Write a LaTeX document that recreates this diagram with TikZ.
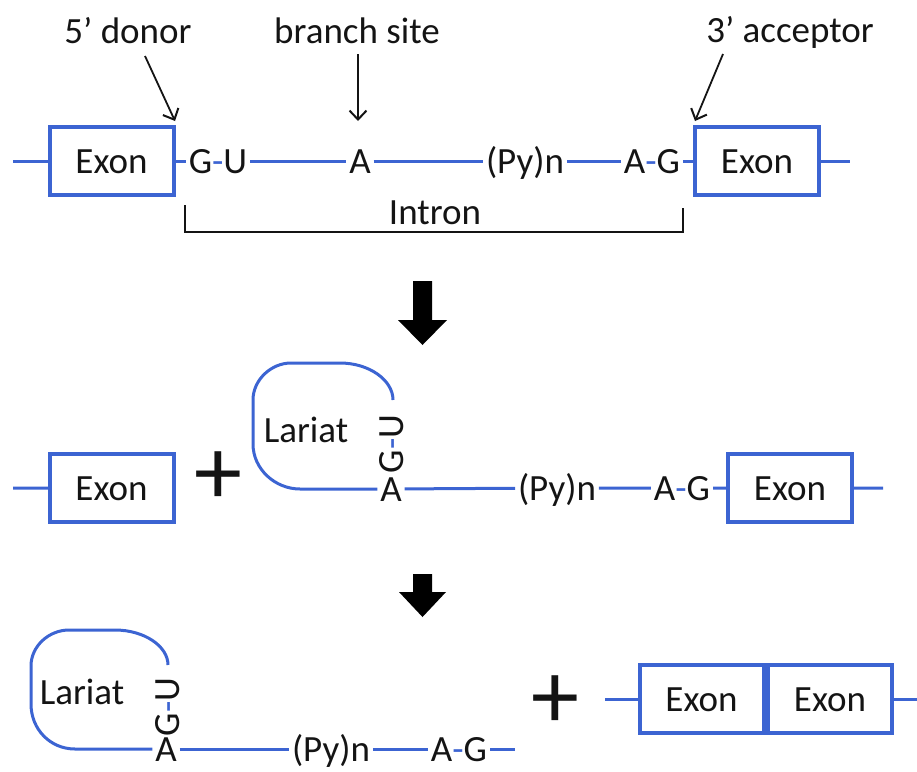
\documentclass[tikz,border=0pt]{standalone}
\usepackage{fontspec}
\setmainfont{Carlito}
\usetikzlibrary{arrows.meta}
\definecolor{rna}{RGB}{60,100,210}
\definecolor{ink}{RGB}{20,20,20}
\begin{document}
\begin{tikzpicture}[x=1pt,y=-1pt,
  every node/.style={font=\fontsize{37}{44}\selectfont, text=ink},
  txt/.style={inner sep=0pt, outer sep=3pt, text height=24pt, text depth=0pt},
  exon/.style={txt, draw=rna, line width=4pt, minimum width=124pt, minimum height=68pt, outer sep=0pt, fill=white},
  strand/.style={draw=rna, line width=3pt},
  ptr/.style={draw=ink, line width=1.8pt, -{Straight Barb[length=9pt,width=17pt,line width=2pt]}},
  plussign/.style={inner sep=0pt, font=\fontsize{96}{96}\selectfont},
  bracket/.style={draw=ink, line width=1.4pt}]
\useasboundingbox (0,0) rectangle (917,771);

% ---------- row 1 ----------
\node[txt] (donor) at (128,31) {5’ donor};
\node[txt] (branch) at (357,31) {branch site};
\node[txt] (acceptor) at (790,30) {3’ acceptor};

\coordinate (r1l) at (13,161);
\node[exon] (e1) at (111.5,161) {Exon};
\node[txt] (gu1) at (218,161) {G\textcolor{rna}{-}U};
\node[txt] (a1) at (360,161) {A};
\node[txt] (py1) at (525,161) {(Py)n};
\node[txt] (ag1) at (652,161) {A\textcolor{rna}{-}G};
\node[exon] (e2) at (757,161) {Exon};
\coordinate (r1r) at (850,161);
\draw[strand] (r1l) -- (e1) (e1) -- (gu1) (gu1) -- (a1) (a1) -- (py1)
  (py1) -- (ag1) (ag1) -- (e2) (e2) -- (r1r);

\coordinate (donorS) at (145,56);
\coordinate (donorT) at (175,121);
\coordinate (branchS) at (358,54);
\coordinate (branchT) at (358,121);
\coordinate (accS) at (723,54);
\coordinate (accT) at (695,121);
\draw[ptr] (donorS) -- (donorT);
\draw[ptr] (branchS) -- (branchT);
\draw[ptr] (accS) -- (accT);

\coordinate (brL) at (185,205);
\coordinate (brR) at (683,208);
\draw[bracket] (brL) -- (185,232) -- (683,232) -- (brR);
\node[txt] (intron) at (435,212) {Intron};

% ---------- big arrows ----------
\fill[black] (413,281) -- (432,281) -- (432,320) -- (447,320) -- (422.5,345) -- (398,320) -- (413,320) -- cycle;
\fill[black] (413,574) -- (432,574) -- (432,592) -- (446,592) -- (422.5,617) -- (399,592) -- (413,592) -- cycle;

% ---------- row 2 ----------
\coordinate (r2l) at (13,488);
\node[exon] (e3) at (111.5,488) {Exon};
\node[plussign] (p1) at (218,478) {+};
\node[txt] (a2) at (391,489) {A};
\node[txt, rotate=90] (gu2) at (391,444) {G\textcolor{rna}{-}U};
\node[txt] (lar1) at (306,430) {Lariat};
\node[txt] (py2) at (557,488) {(Py)n};
\node[txt] (ag2) at (682,488) {A\textcolor{rna}{-}G};
\node[exon] (e4) at (790,488) {Exon};
\coordinate (r2r) at (883,488);
\draw[strand] (r2l) -- (e3) (a2) -- (py2) (py2) -- (ag2) (ag2) -- (e4) (e4) -- (r2r);
\begin{scope}[shift={(a2)}]
\draw[strand] (a2.west) -- (-91,0) .. controls (-116,0) and (-138,-20) .. (-138,-45)
  -- (-138,-89) .. controls (-138,-109) and (-120,-126) .. (-100,-126)
  -- (-51,-126) .. controls (-22,-126) and (2,-109) .. (2,-89);
\end{scope}

% ---------- row 3 ----------
\node[txt] (a3) at (166,749) {A};
\node[txt, rotate=90] (gu3) at (167,707) {G\textcolor{rna}{-}U};
\node[txt] (lar2) at (82,692) {Lariat};
\node[txt] (py3) at (331,749) {(Py)n};
\node[txt] (ag3) at (459,749) {A\textcolor{rna}{-}G};
\coordinate (r3e) at (515,749);
\draw[strand] (a3) -- (py3) (py3) -- (ag3) (ag3) -- (r3e);
\begin{scope}[shift={(a3)}]
\draw[strand] (a3.west) -- (-91,0) .. controls (-116,0) and (-135,-20) .. (-135,-45)
  -- (-135,-83) .. controls (-135,-103) and (-117,-119) .. (-97,-119)
  -- (-51,-119) .. controls (-22,-119) and (2,-103) .. (2,-84);
\end{scope}

\node[plussign] (p2) at (555,702) {+};
\coordinate (r3l) at (605,699);
\node[exon] (e5) at (701.5,699) {Exon};
\node[exon] (e6) at (830,699) {Exon};
\coordinate (r3r) at (917,699);
\draw[strand] (r3l) -- (e5) (e6) -- (r3r);
\end{tikzpicture}
\end{document}
